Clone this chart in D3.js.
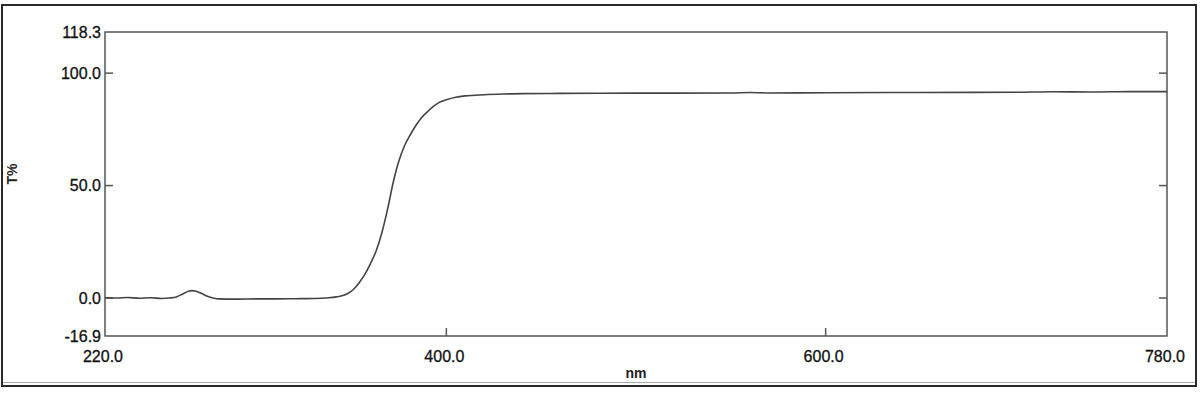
<!DOCTYPE html>
<html>
<head>
<meta charset="utf-8">
<script src="https://cdn.jsdelivr.net/npm/d3@7"></script>
<style>
  html, body { margin: 0; padding: 0; background: #fff; }
  svg { display: block; }
  text { font-family: "Liberation Sans", Arial, sans-serif; }
</style>
</head>
<body>
<svg id="chart" width="1200" height="400"></svg>
<script>
// ---- data ----
const wavelengths = [220,226,232,238,244,250,254,258,261,264,266,268,271,274,277,280,290,300,310,320,330,334,338,342,345,348,351,354,357,360,363,366,369,372,375,378,381,384,387,390,393,396,400,405,410,420,430,440,460,500,550,560,570,600,650,700,720,740,760,780];
const transmittance = [0.1,0.0,0.2,-0.1,0.1,-0.2,0.0,0.6,1.8,3.0,3.3,3.0,2.0,0.8,0.0,-0.4,-0.5,-0.4,-0.4,-0.3,-0.2,-0.1,0.1,0.5,1.0,2.0,3.8,6.8,10.5,15.3,21.0,29.0,39.5,51.5,61.0,67.8,72.6,76.8,80.3,82.8,85.1,86.9,88.2,89.3,89.9,90.4,90.7,90.9,91.0,91.1,91.2,91.4,91.2,91.3,91.4,91.5,91.7,91.6,91.8,91.8];
const xTicks = [400, 600];
const yTicks = [100, 50, 0];
const xDomain = [220, 780];
const yDomain = [-16.9, 118.3];
const xLabel = "nm";
const yLabel = "T%";

// ---- layout ----
const svg = d3.select("#chart");
const L = 105, R = 1167, T = 32, B = 336;
const x = d3.scaleLinear().domain(xDomain).range([L, R]);
const y = d3.scaleLinear().domain(yDomain).range([B, T]);
const fmt = d3.formatLocale({ decimal: ".", thousands: ",", grouping: [3], currency: ["", ""], minus: "-" }).format(".1f");

// outer frame
svg.append("line").attr("x1", 3).attr("x2", 1195).attr("y1", 382.5).attr("y2", 382.5)
  .attr("stroke", "#aaa").attr("stroke-width", 1);
svg.append("rect").attr("x", 2).attr("y", 5).attr("width", 1194).attr("height", 381)
  .attr("fill", "none").attr("stroke", "#2a2a2a").attr("stroke-width", 2);

// plot box
svg.append("rect").attr("x", L).attr("y", T).attr("width", R - L).attr("height", B - T)
  .attr("fill", "none").attr("stroke", "#555").attr("stroke-width", 1.5);

// ticks (inward)
const tickLen = 8;
svg.append("g").selectAll("line").data(yTicks).join("line")
  .attr("x1", L).attr("x2", L + tickLen).attr("y1", d => y(d)).attr("y2", d => y(d))
  .attr("stroke", "#555").attr("stroke-width", 1.5);
svg.append("g").selectAll("line").data(yTicks).join("line")
  .attr("x1", R).attr("x2", R - tickLen).attr("y1", d => y(d)).attr("y2", d => y(d))
  .attr("stroke", "#555").attr("stroke-width", 1.5);
svg.append("g").selectAll("line").data(xTicks).join("line")
  .attr("x1", d => x(d)).attr("x2", d => x(d)).attr("y1", B).attr("y2", B - tickLen)
  .attr("stroke", "#555").attr("stroke-width", 1.5);

// y tick labels (including domain ends)
const yLabelVals = [yDomain[1], ...yTicks, yDomain[0]];
svg.append("g").selectAll("text").data(yLabelVals).join("text")
  .attr("x", 101).attr("y", d => y(d)).attr("dy", "0.36em")
  .attr("text-anchor", "end").attr("font-size", 16).attr("fill", "#111")
  .attr("stroke", "#111").attr("stroke-width", 0.3)
  .text(d => fmt(d));

// x tick labels (including domain ends)
const xLabelVals = [xDomain[0], ...xTicks, xDomain[1]];
svg.append("g").selectAll("text").data(xLabelVals).join("text")
  .attr("x", d => x(d) - 2).attr("y", 356).attr("dy", "0.36em")
  .attr("text-anchor", "middle").attr("font-size", 16).attr("fill", "#111")
  .attr("stroke", "#111").attr("stroke-width", 0.3)
  .text(d => fmt(d));

// axis titles
svg.append("text").attr("x", 636).attr("y", 373).attr("dy", "0.36em")
  .attr("text-anchor", "middle").attr("font-size", 14).attr("font-weight", "bold").attr("fill", "#222")
  .text(xLabel);
svg.append("text").attr("transform", "translate(12,174) rotate(-90)").attr("dy", "0.36em")
  .attr("text-anchor", "middle").attr("font-size", 14).attr("font-weight", "bold").attr("fill", "#222")
  .text(yLabel);

// spectrum
const data = wavelengths.map((w, i) => ({ w, t: transmittance[i] }));
const line = d3.line().x(d => x(d.w)).y(d => y(d.t)).curve(d3.curveMonotoneX);
svg.append("path").datum(data).attr("d", line)
  .attr("fill", "none").attr("stroke", "#444").attr("stroke-width", 1.6);
</script>
</body>
</html>
